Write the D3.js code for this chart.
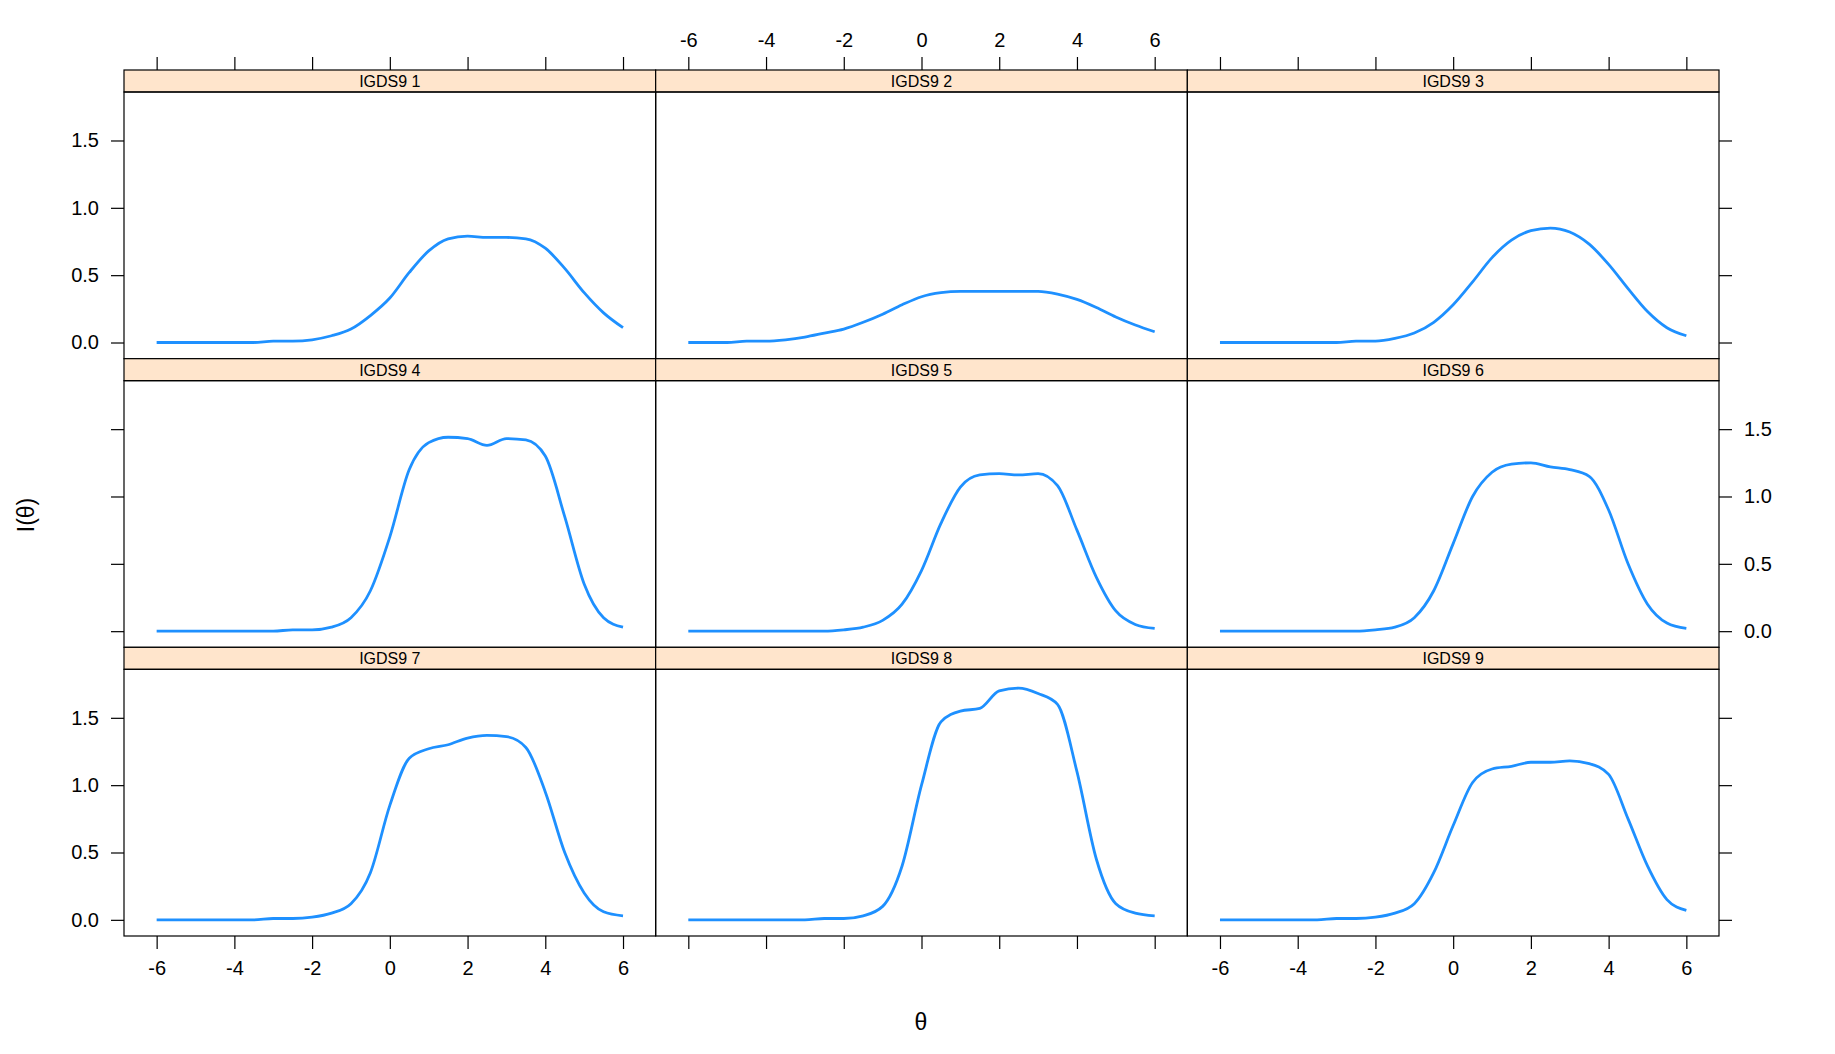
<!DOCTYPE html><html><head><meta charset="utf-8">
<script src="https://cdn.jsdelivr.net/npm/d3@7"></script>
<style>body{margin:0;background:#fff}text{font-family:"Liberation Sans",Arial,sans-serif}</style></head>
<body><svg id="c" width="1835" height="1054"></svg>
<script>
const theta=[-6,-5.5,-5,-4.5,-4,-3.5,-3,-2.5,-2,-1.5,-1,-0.5,0,0.5,1,1.5,2,2.5,3,3.5,4,4.5,5,5.5,6];
const panels=["IGDS9_1","IGDS9_2","IGDS9_3","IGDS9_4","IGDS9_5","IGDS9_6","IGDS9_7","IGDS9_8","IGDS9_9"];
const info1=[0,0,0,0,0,0,0.01,0.01,0.02,0.05,0.1,0.2,0.33,0.52,0.68,0.77,0.79,0.78,0.78,0.77,0.7,0.55,0.37,0.22,0.11];
const info2=[0,0,0,0.01,0.01,0.02,0.04,0.07,0.1,0.15,0.21,0.28,0.34,0.37,0.38,0.38,0.38,0.38,0.38,0.36,0.32,0.26,0.19,0.13,0.08];
const info3=[0,0,0,0,0,0,0,0.01,0.01,0.03,0.07,0.15,0.28,0.45,0.63,0.76,0.83,0.85,0.82,0.73,0.58,0.4,0.23,0.11,0.05];
const info4=[0,0,0,0,0,0,0,0.01,0.01,0.03,0.1,0.3,0.7,1.2,1.4,1.44,1.43,1.38,1.43,1.42,1.3,0.85,0.35,0.1,0.03];
const info5=[0,0,0,0,0,0,0,0,0.01,0.03,0.08,0.2,0.45,0.8,1.07,1.16,1.17,1.16,1.17,1.08,0.75,0.4,0.15,0.05,0.02];
const info6=[0,0,0,0,0,0,0,0,0.01,0.03,0.1,0.3,0.65,1.0,1.18,1.24,1.25,1.22,1.2,1.15,0.9,0.5,0.2,0.06,0.02];
const info7=[0,0,0,0,0,0,0.01,0.01,0.02,0.05,0.12,0.35,0.85,1.2,1.27,1.3,1.35,1.37,1.36,1.28,0.95,0.5,0.2,0.06,0.03];
const info8=[0,0,0,0,0,0,0,0.01,0.01,0.03,0.1,0.4,1.0,1.47,1.55,1.57,1.7,1.72,1.68,1.6,1.1,0.45,0.12,0.05,0.03];
const info9=[0,0,0,0,0,0,0.01,0.01,0.02,0.05,0.12,0.35,0.7,1.02,1.12,1.14,1.17,1.17,1.18,1.16,1.08,0.75,0.4,0.15,0.07];
const series=[info1,info2,info3,info4,info5,info6,info7,info8,info9];
const xTicks=[-6,-4,-2,0,2,4,6], yTicks=[0,0.5,1,1.5];

const svg=d3.select("#c");
const L=124,R=1719,T=70,B=936,stripH=22;
const pw=(R-L)/3, ph=(B-T)/3;
const x0=d3.scaleLinear().domain([-6.84,6.84]).range([0,pw]);
const y0=d3.scaleLinear().domain([-0.12,1.86]).range([ph-stripH,0]);
const line=d3.line().x((d,i)=>x0(theta[i])).y(d=>y0(d)).curve(d3.curveMonotoneX);
panels.forEach((name,k)=>{
  const col=k%3,row=Math.floor(k/3);
  const g=svg.append("g").attr("transform",`translate(${L+col*pw},${T+row*ph})`);
  g.append("rect").attr("width",pw).attr("height",stripH).attr("fill","#ffe5cc").attr("stroke","#000").attr("stroke-width",1.2);
  g.append("text").attr("x",pw/2).attr("y",stripH/2+6).attr("text-anchor","middle").attr("font-size",16).text(name.replace("_"," "));
  const p=g.append("g").attr("transform",`translate(0,${stripH})`);
  p.append("rect").attr("width",pw).attr("height",ph-stripH).attr("fill","none").attr("stroke","#000").attr("stroke-width",1.2);
  p.append("path").attr("d",line(series[k])).attr("fill","none").attr("stroke","#1e90ff").attr("stroke-width",2.8);
  if(row===0){const a=g.append("g").call(d3.axisTop(x0).tickValues(xTicks).tickSize(13).tickPadding(10).tickSizeOuter(0).tickFormat(col===1?d=>d:""));a.select(".domain").remove();}
  if(row===2){const a=p.append("g").attr("transform",`translate(0,${ph-stripH})`).call(d3.axisBottom(x0).tickValues(xTicks).tickSize(13).tickPadding(12).tickSizeOuter(0).tickFormat(col!==1?d=>d:""));a.select(".domain").remove();}
  if(col===0){const a=p.append("g").call(d3.axisLeft(y0).tickValues(yTicks).tickSize(13).tickPadding(12).tickSizeOuter(0).tickFormat(row!==1?d3.format(".1f"):""));a.select(".domain").remove();}
  if(col===2){const a=p.append("g").attr("transform",`translate(${pw},0)`).call(d3.axisRight(y0).tickValues(yTicks).tickSize(13).tickPadding(12).tickSizeOuter(0).tickFormat(row===1?d3.format(".1f"):""));a.select(".domain").remove();}
});
svg.selectAll(".tick text").attr("font-size",20).attr("font-family","Liberation Sans, Arial, sans-serif").attr("fill","#000");
svg.selectAll(".tick line").attr("stroke","#000").attr("stroke-width",1.2);
svg.append("text").attr("x",921).attr("y",1030).attr("text-anchor","middle").attr("font-size",23).text("θ");
svg.append("text").attr("transform","translate(34,515) rotate(-90)").attr("text-anchor","middle").attr("font-size",23).text("I(θ)");
</script></body></html>
